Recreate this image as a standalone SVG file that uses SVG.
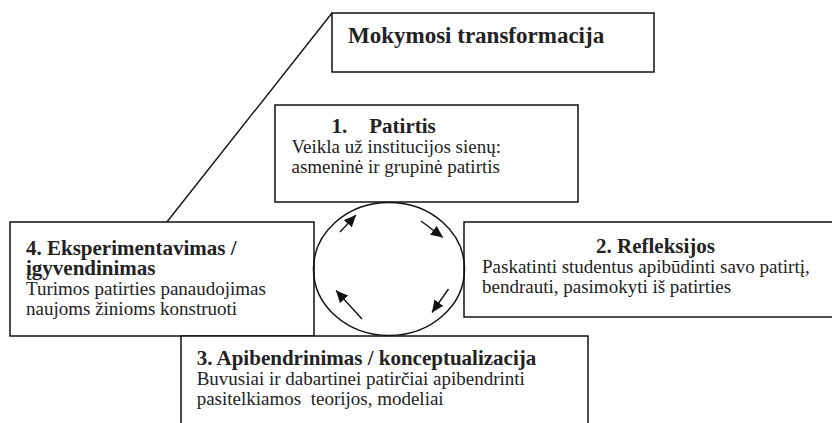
<svg xmlns="http://www.w3.org/2000/svg" width="832" height="423" viewBox="0 0 832 423">
<style>
.box{fill:#fff;stroke:#111;stroke-width:1.5}
.t{font-family:"Liberation Serif","Times New Roman",serif;fill:#222}
.h{font-size:21px;font-weight:bold}
.b{font-size:19px}
.ttl{font-size:23px;font-weight:bold}
.conn{stroke:#111;stroke-width:1.4;fill:none}
</style>
<defs>
<marker id="ah" markerUnits="userSpaceOnUse" markerWidth="13" markerHeight="11" refX="12" refY="5.5" orient="auto">
<path d="M0,0 L12,5.5 L0,11 z" fill="#111"/>
</marker>
</defs>
<g id="connectors">
<line class="conn" x1="332" y1="13" x2="166.7" y2="222.3"/>
</g>
<g id="title">
<rect class="box" x="332" y="13" width="322" height="59"/>
<text class="t ttl" x="348" y="43">Mokymosi transformacija</text>
</g>
<g id="node1">
<rect class="box" x="275" y="105" width="303" height="97"/>
<text class="t h" x="331.5" y="132.5">1.</text>
<text class="t h" x="369.3" y="132.5">Patirtis</text>
<text class="t b" x="291.5" y="152.5">Veikla už institucijos sienų:</text>
<text class="t b" x="291.5" y="172.5">asmeninė ir grupinė patirtis</text>
</g>
<g id="node4">
<rect class="box" x="10" y="222" width="304" height="114"/>
<text class="t h" x="26" y="255">4. Eksperimentavimas /</text>
<text class="t h" x="26" y="275">įgyvendinimas</text>
<text class="t b" x="26" y="295">Turimos patirties panaudojimas</text>
<text class="t b" x="26" y="315">naujoms žinioms konstruoti</text>
</g>
<g id="node2">
<rect class="box" x="464" y="222" width="380" height="95"/>
<text class="t h" x="596" y="253.3">2. Refleksijos</text>
<text class="t b" x="482" y="273.3">Paskatinti studentus apibūdinti savo patirtį,</text>
<text class="t b" x="482" y="293.3">bendrauti, pasimokyti iš patirties</text>
</g>
<g id="node3">
<rect class="box" x="181" y="336" width="407" height="100"/>
<text class="t h" x="196.7" y="364.5">3. Apibendrinimas / konceptualizacija</text>
<text class="t b" x="196.7" y="384.5">Buvusiai ir dabartinei patirčiai apibendrinti</text>
<text class="t b" x="196.7" y="405">pasitelkiamos&#160; teorijos, modeliai</text>
</g>
<g id="cycle">
<ellipse cx="389" cy="269" rx="75.5" ry="66.5" fill="none" stroke="#111" stroke-width="1.5"/>
<line class="conn" x1="340" y1="232" x2="356" y2="215" marker-end="url(#ah)"/>
<line class="conn" x1="421" y1="221" x2="443" y2="237.5" marker-end="url(#ah)"/>
<line class="conn" x1="448.5" y1="289" x2="432" y2="312.5" marker-end="url(#ah)"/>
<line class="conn" x1="362" y1="319" x2="336" y2="290.5" marker-end="url(#ah)"/>
</g>
</svg>
